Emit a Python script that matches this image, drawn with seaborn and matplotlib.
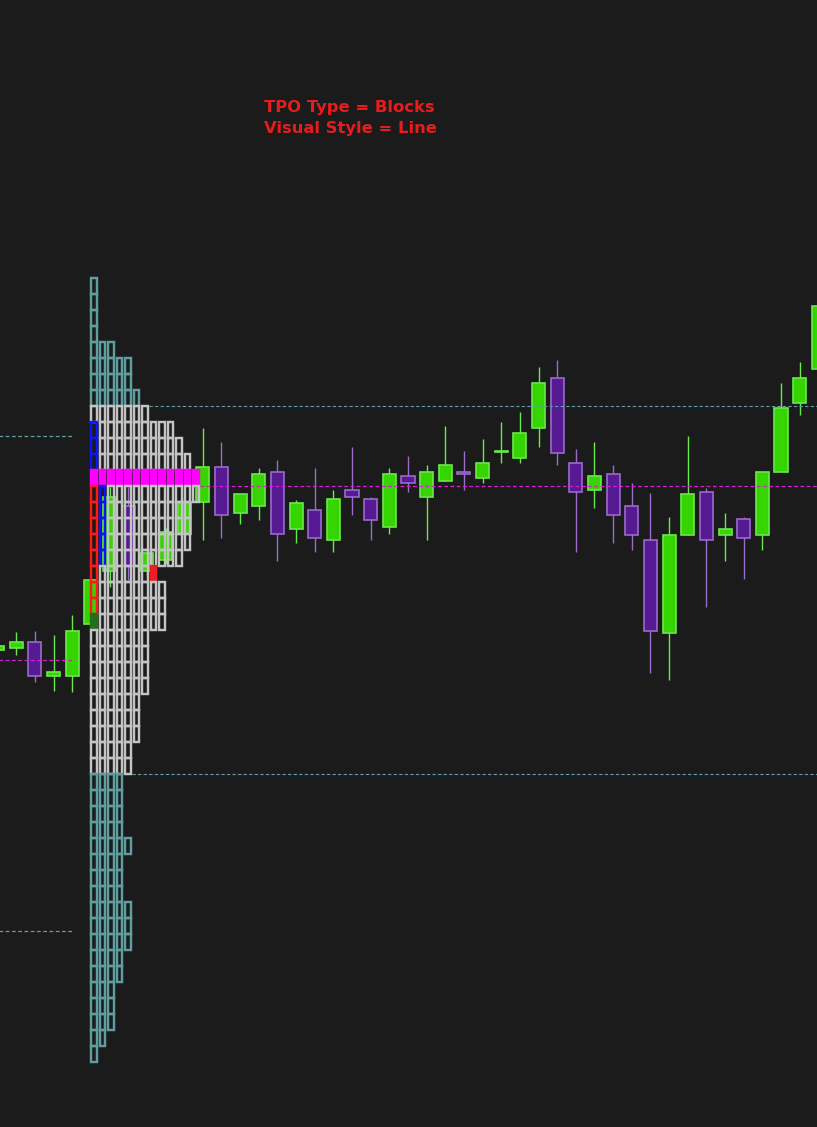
import matplotlib
matplotlib.use('Agg')
import matplotlib.pyplot as plt
import seaborn as sns
import numpy as np
import pandas as pd

BG = '#1b1b1b'
sns.set_theme(style='dark', rc={'axes.facecolor': BG, 'figure.facecolor': BG})
plt.rcParams['font.family'] = ['DejaVu Sans']

# ---- candles (bar index -1 .. 43) ----
BAR_FIRST = -1
OPEN = [4996.44, 4996.47, 4996.56, 4996.03, 4996.03, 4996.84, 4997.66, 4998.69, 4997.66, 4997.84,
        4998.25, 4998.75, 4999.29, 4998.57, 4998.68, 4999.22, 4998.32, 4998.62, 4998.15, 4998.93,
        4998.79, 4998.36, 4999.15, 4998.82, 4999.07, 4999.21, 4999.12, 4999.52, 4999.43, 4999.90,
        5000.68, 4999.35, 4998.93, 4999.18, 4998.68, 4998.15, 4996.70, 4998.23, 4998.90, 4998.23,
        4998.48, 4998.23, 4999.21, 5000.29, 5000.82]
HIGH = [4996.52, 4996.71, 4996.73, 4996.67, 4996.98, 4997.56, 4998.98, 4998.98, 4998.02, 4998.34,
        4998.81, 4999.90, 4999.69, 4998.87, 4999.27, 4999.41, 4998.77, 4999.27, 4998.94, 4999.61,
        4998.82, 4999.27, 4999.47, 4999.33, 4999.94, 4999.55, 4999.73, 5000.00, 5000.16, 5000.86,
        5000.97, 4999.58, 4999.69, 4999.33, 4999.05, 4998.88, 4998.51, 4999.77, 4998.96, 4998.57,
        4998.51, 4999.21, 5000.60, 5000.94, 5002.06]
LOW = [4996.42, 4996.36, 4995.94, 4995.80, 4995.77, 4996.78, 4997.41, 4997.53, 4997.59, 4997.78,
       4998.19, 4998.15, 4998.18, 4998.40, 4998.47, 4997.83, 4998.11, 4997.97, 4997.97, 4998.54,
       4998.15, 4998.25, 4998.90, 4998.15, 4999.07, 4998.94, 4999.04, 4999.36, 4999.35, 4999.60,
       4999.32, 4997.97, 4998.65, 4998.11, 4998.00, 4996.08, 4995.97, 4998.23, 4997.11, 4997.83,
       4997.54, 4998.00, 4999.21, 5000.10, 5000.73]
CLOSE = [4996.50, 4996.56, 4996.03, 4996.09, 4996.73, 4997.52, 4998.83, 4997.75, 4997.95, 4998.28,
         4998.75, 4999.29, 4998.54, 4998.87, 4999.19, 4998.25, 4998.73, 4998.18, 4998.79, 4998.82,
         4998.47, 4999.18, 4999.04, 4999.21, 4999.32, 4999.18, 4999.35, 4999.55, 4999.82, 5000.60,
         4999.51, 4998.90, 4999.15, 4998.54, 4998.23, 4996.73, 4998.23, 4998.87, 4998.15, 4998.32,
         4998.18, 4999.21, 5000.21, 5000.68, 5001.81]

# ---- TPO profile (rows top -> bottom, one tick each) ----
TICK = 0.25
PROFILE_TOP = 5002.00
TPO_COUNTS = [1, 1, 1, 1, 3, 5, 5, 6, 7, 10, 11, 12, 13, 13, 12, 12, 12, 11, 8, 9, 9, 9,
              7, 7, 7, 7, 6, 6, 6, 5, 5, 4, 4, 4, 4, 5, 4, 4, 4, 5, 5, 5, 4, 4, 3, 3, 3, 2, 1]
VAH = 5000.25
VAL = 4994.50
POC = 4999.00
BLUE_BLOCKS = [(4999.75, 0), (4999.50, 0), (4999.25, 0),
               (4998.75, 1), (4998.50, 1), (4998.25, 1), (4998.00, 1), (4997.75, 1)]
RED_BLOCKS = [(4998.75, 0), (4998.50, 0), (4998.25, 0), (4998.00, 0),
              (4997.75, 0), (4997.50, 0), (4997.25, 0), (4997.00, 0)]
RED_FILLED = [(4997.50, 7)]
GREEN_FILLED = [(4996.75, 0)]

# previous session levels
PREV_VAH = 4999.77
PREV_POC = 4996.28
PREV_VAL = 4992.05

GREEN, GREEN_EDGE = '#36d400', '#6ae84c'
PURPLE, PURPLE_EDGE = '#561a92', '#9a6acc'
TEAL, GRAY = '#5f9ea0', '#c4c4c4'
MAGENTA = '#ff00ff'

df = pd.DataFrame({'open': OPEN, 'high': HIGH, 'low': LOW, 'close': CLOSE})
df['bar'] = np.arange(len(df)) + BAR_FIRST
df['up'] = df['close'] >= df['open']

fig = plt.figure(figsize=(8.17, 11.27), dpi=100)
ax = fig.add_axes([0, 0, 1, 1])
ax.set_facecolor(BG)

# candles
wick_c = np.where(df['up'], GREEN_EDGE, PURPLE_EDGE)
ax.vlines(df['bar'], df['low'], df['high'], colors=wick_c, lw=1.0, zorder=1)
ax.bar(df['bar'], (df['close'] - df['open']).abs().clip(lower=0.02),
       bottom=df[['open', 'close']].min(axis=1), width=0.7,
       color=np.where(df['up'], GREEN, PURPLE),
       edgecolor=np.where(df['up'], GREEN_EDGE, PURPLE_EDGE), lw=1.2, zorder=2)

# TPO blocks
PROFILE_X = 4.161
PITCH = 0.4558
BLOCK_W = 0.284
levels = PROFILE_TOP - TICK * np.arange(len(TPO_COUNTS))
xs, ys, faces, edges = [], [], [], []
for lv, n in zip(levels, TPO_COUNTS):
    for c in range(n):
        key = (round(lv, 2), c)
        edge = GRAY if VAL <= lv < VAH else TEAL
        face = 'none'
        if abs(lv - POC) < 1e-6:
            face, edge = MAGENTA, MAGENTA
        elif key in RED_FILLED:
            face, edge = '#ee1c24', '#ee1c24'
        elif key in GREEN_FILLED:
            face, edge = '#226f1c', '#226f1c'
        elif key in RED_BLOCKS:
            edge = '#ff1a1a'
        elif key in BLUE_BLOCKS:
            edge = '#0a14ff'
        xs.append(PROFILE_X + PITCH * c)
        ys.append(lv)
        faces.append(face)
        edges.append(edge)
ax.bar(xs, TICK, bottom=ys, width=BLOCK_W, color=faces, edgecolor=edges,
       lw=1.75, align='center', zorder=3)

# level lines
def row_end(price):
    n = TPO_COUNTS[int(round((PROFILE_TOP - price) / TICK))]
    return PROFILE_X + PITCH * (n - 1) + BLOCK_W / 2 + 0.06

dash = (0, (3, 2))
ax.hlines(VAH, row_end(VAH - TICK), 45, colors=TEAL, lw=0.8, linestyles=dash, zorder=4)
ax.hlines(VAL, row_end(VAL), 45, colors=TEAL, lw=0.8, linestyles=dash, zorder=4)
ax.hlines(POC, row_end(POC), 45, colors='#d61ed6', lw=0.9, linestyles=dash, zorder=4)
for lv, col in [(PREV_VAH, TEAL), (PREV_POC, '#d61ed6'), (PREV_VAL, TEAL)]:
    ax.hlines(lv, -1, 3.04, colors=col, lw=0.9, linestyles=dash, zorder=4)

ax.set_xlim(-0.874, 42.93)
ax.set_ylim(4988.98, 5006.59)
ax.axis('off')

fig.text(264 / 817, 1 - 111.7 / 1127, 'TPO Type = Blocks', color='#e81c1c',
         fontsize=11.8, fontweight='bold', va='baseline', ha='left')
fig.text(264 / 817, 1 - 133.3 / 1127, 'Visual Style = Line', color='#e81c1c',
         fontsize=11.8, fontweight='bold', va='baseline', ha='left')

fig.savefig('out.png', dpi=100, facecolor=BG)
